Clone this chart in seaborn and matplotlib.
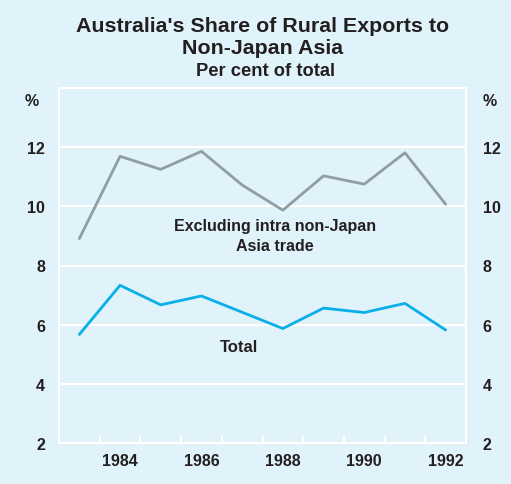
import numpy as np
import pandas as pd
import matplotlib
matplotlib.use("Agg")
import matplotlib.pyplot as plt
import seaborn as sns

# data (financial years, plotted mid-year)
years = [1983, 1984, 1985, 1986, 1987, 1988, 1989, 1990, 1991, 1992]
excl_intra = [8.91, 11.69, 11.25, 11.86, 10.72, 9.87, 11.03, 10.75, 11.81, 10.07]
total = [5.67, 7.33, 6.67, 6.97, 6.42, 5.87, 6.56, 6.41, 6.72, 5.82]
tick_years = [1984, 1986, 1988, 1990, 1992]
y_ticks = [2, 4, 6, 8, 10, 12]

bg = "#e0f2fa"
grey = "#8f9ea3"
cyan = "#0aafe9"
txt = "#231f20"

df = pd.DataFrame({"year": years, "excl": excl_intra, "total": total})
df["x"] = df["year"] + 0.5

sns.set_theme(style="white")
plt.rcParams["font.family"] = ["Liberation Sans", "DejaVu Sans"]
plt.rcParams["font.weight"] = "bold"

fig = plt.figure(figsize=(5.11, 4.85), dpi=100, facecolor=bg)
ax = fig.add_axes([59 / 511, 41 / 485, 407 / 511, 355 / 485])
ax.set_facecolor(bg)

sns.lineplot(data=df, x="x", y="excl", color=grey, linewidth=2, ax=ax)
sns.lineplot(data=df, x="x", y="total", color=cyan, linewidth=2, ax=ax)

ax.set_xlim(1983, 1993)
ax.set_ylim(2, 14)
ax.set_xlabel("")
ax.set_ylabel("")

# horizontal grid, white
for v in y_ticks[1:]:
    ax.axhline(v, color="white", linewidth=1.5, zorder=0)

for s in ax.spines.values():
    s.set_color("white")
    s.set_linewidth(1.5)

fs = 11.5
ax.set_xticks([y + 0.5 for y in tick_years])
ax.set_xticklabels([str(y) for y in tick_years], fontsize=fs, fontweight="bold", color=txt)
ax.set_xticks(range(1984, 1993), minor=True)
ax.tick_params(axis="x", which="major", length=0, pad=7)
ax.tick_params(axis="x", which="minor", direction="in", length=5, width=1.5, color="white", bottom=True)

ax.set_yticks(y_ticks)
ax.set_yticklabels([str(v) for v in y_ticks], fontsize=fs, fontweight="bold", color=txt)
ax.tick_params(axis="y", length=0, pad=10)

# right-hand scale
ax2 = ax.twinx()
ax2.set_ylim(ax.get_ylim())
ax2.set_yticks(y_ticks)
ax2.set_yticklabels([str(v) for v in y_ticks], fontsize=fs, fontweight="bold", color=txt)
ax2.tick_params(axis="y", length=0, pad=12)
for s in ax2.spines.values():
    s.set_visible(False)

ax.text(-0.05, 0.965, "%", transform=ax.transAxes, ha="right", va="center",
        fontsize=fs, fontweight="bold", color=txt)
ax.text(1.04, 0.965, "%", transform=ax.transAxes, ha="left", va="center",
        fontsize=fs, fontweight="bold", color=txt)

ax.text(1988.3, 9.02, "Excluding intra non-Japan\nAsia trade", ha="center", va="center",
        fontsize=fs, fontweight="bold", color=txt, linespacing=1.45)
ax.text(1987.42, 5.26, "Total", ha="center", va="center",
        fontsize=12, fontweight="bold", color=txt)

xc = 263 / 511
fig.text(xc, 1 - 26 / 485, "Australia's Share of Rural Exports to", ha="center", va="center",
         fontsize=15.4, fontweight="bold", color=txt)
fig.text(xc, 1 - 48 / 485, "Non-Japan Asia", ha="center", va="center",
         fontsize=15.4, fontweight="bold", color=txt)
fig.text(xc + 2 / 511, 1 - 72 / 485, "Per cent of total", ha="center", va="center",
         fontsize=13.2, fontweight="bold", color=txt)

fig.savefig("out.png", dpi=100, facecolor=bg)
